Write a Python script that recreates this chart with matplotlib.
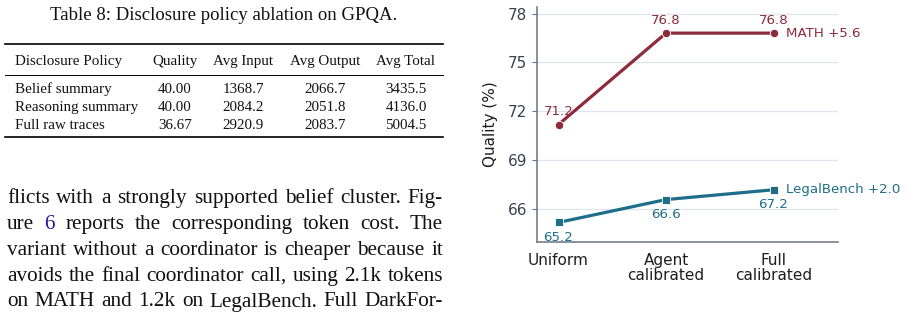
import matplotlib.pyplot as plt
import numpy as np

# chart data
settings = ['Uniform', 'Agent\ncalibrated', 'Full\ncalibrated']
math_q = [71.2, 76.8, 76.8]
legal_q = [65.2, 66.6, 67.2]
yticks = [66, 69, 72, 75, 78]

# table data
tbl_cols = ['Disclosure Policy', 'Quality', 'Avg Input', 'Avg Output', 'Avg Total']
tbl_rows = ['Belief summary', 'Reasoning summary', 'Full raw traces']
tbl_quality = ['40.00', '40.00', '36.67']
tbl_input = ['1368.7', '2084.2', '2920.9']
tbl_output = ['2066.7', '2051.8', '2083.7']
tbl_total = ['3435.5', '4136.0', '5004.5']

para_lines = [
    'flicts with a strongly supported belief cluster. Fig-',
    'ure 6 reports the corresponding token cost.  The',
    'variant without a coordinator is cheaper because it',
    'avoids the final coordinator call, using 2.1k tokens',
    'on MATH and 1.2k on LegalBench. Full DarkFor-',
]

W, H = 916, 312
fig = plt.figure(figsize=(W / 100, H / 100), dpi=100)
serif = 'Liberation Serif'
ink = '#111111'


def px(x, y):
    return x / W, 1 - y / H


# ---- table ----
fig.text(*px(224, 20), 'Table 8: Disclosure policy ablation on GPQA.', family=serif,
         fontsize=13.5, ha='center', va='baseline', color=ink)
for yy, lw in [(44, 1.2), (75.3, 0.7), (137, 1.2)]:
    fig.add_artist(plt.Line2D([5 / W, 443 / W], [1 - yy / H] * 2, lw=lw, color='black'))
col_x = [15, 175, 243, 325, 406]
fs_t = 10.8
fig.text(*px(col_x[0], 65), tbl_cols[0], family=serif, fontsize=fs_t, va='baseline', color=ink)
for cx, name in zip(col_x[1:], tbl_cols[1:]):
    fig.text(*px(cx, 65), name, family=serif, fontsize=fs_t, ha='center', va='baseline', color=ink)
row_y = [93, 111, 129]
for i, ry in enumerate(row_y):
    fig.text(*px(col_x[0], ry), tbl_rows[i], family=serif, fontsize=fs_t, va='baseline', color=ink)
    for cx, vals in zip(col_x[1:], [tbl_quality, tbl_input, tbl_output, tbl_total]):
        fig.text(*px(cx, ry), vals[i], family=serif, fontsize=fs_t, ha='center', va='baseline', color=ink)

# ---- justified paragraph ----
fig.canvas.draw()
rend = fig.canvas.get_renderer()
left, right = 7, 443
line_y = [203, 229, 255, 281, 306.5]
for line, ly in zip(para_lines, line_y):
    words = line.split()
    arts = []
    for w in words:
        col = '#1a1aa6' if w == '6' else ink
        t = fig.text(0, 1 - ly / H, w, family=serif, fontsize=15.3, va='baseline', color=col)
        arts.append(t)
    widths = [a.get_window_extent(rend).width for a in arts]
    gap = (right - left - sum(widths)) / (len(words) - 1)
    x = left
    for a, wd in zip(arts, widths):
        a.set_x(x / W)
        x += wd + gap

# ---- chart ----
ax = fig.add_axes([537 / W, 1 - 242 / H, (838 - 537) / W, (242 - 7) / H])
xs = np.arange(len(settings))
red = '#8c2b3a'
teal = '#1e6e8a'
ax.plot(xs, math_q, color=red, lw=2.3, marker='o', ms=6, mec='white', mew=0.6, zorder=3)
ax.plot(xs, legal_q, color=teal, lw=2.3, marker='s', ms=6, mec='white', mew=0.6, zorder=3)
for x, v in zip(xs, math_q):
    ax.annotate(f'{v:.1f}', (x, v), xytext=(0, 4.5), textcoords='offset points',
                ha='center', va='bottom', fontsize=9.6, color=red, zorder=2)
for x, v in zip(xs, legal_q):
    ax.annotate(f'{v:.1f}', (x, v), xytext=(0, -6), textcoords='offset points',
                ha='center', va='top', fontsize=9.6, color=teal, zorder=2)
ax.annotate(f'MATH +{math_q[-1] - math_q[0]:.1f}', (xs[-1], math_q[-1]), xytext=(9, 0),
            textcoords='offset points', va='center', fontsize=9.6, color=red)
ax.annotate(f'LegalBench +{legal_q[-1] - legal_q[0]:.1f}', (xs[-1], legal_q[-1]), xytext=(9, 0),
            textcoords='offset points', va='center', fontsize=9.6, color=teal)

ax.set_xlim(-0.2, 2.6)
ax.set_ylim(64.0, 78.4)
ax.set_yticks(yticks)
ax.set_xticks(xs)
ax.set_xticklabels(settings, fontsize=11, color='#1e1e1e', linespacing=1.0)
ax.tick_params(axis='y', labelsize=11, labelcolor='#3a4150', color='#6b7280', length=3.5)
ax.tick_params(axis='x', length=0, pad=8)
ax.set_ylabel('Quality (%)', fontsize=11, color='#1e1e1e', labelpad=7)
ax.grid(axis='y', color='#dfe4ec', lw=0.9)
ax.set_axisbelow(True)
for s in ['top', 'right']:
    ax.spines[s].set_visible(False)
for s in ['left', 'bottom']:
    ax.spines[s].set_color('#6b7280')
    ax.spines[s].set_linewidth(1.1)

fig.savefig('out.png', dpi=100)
